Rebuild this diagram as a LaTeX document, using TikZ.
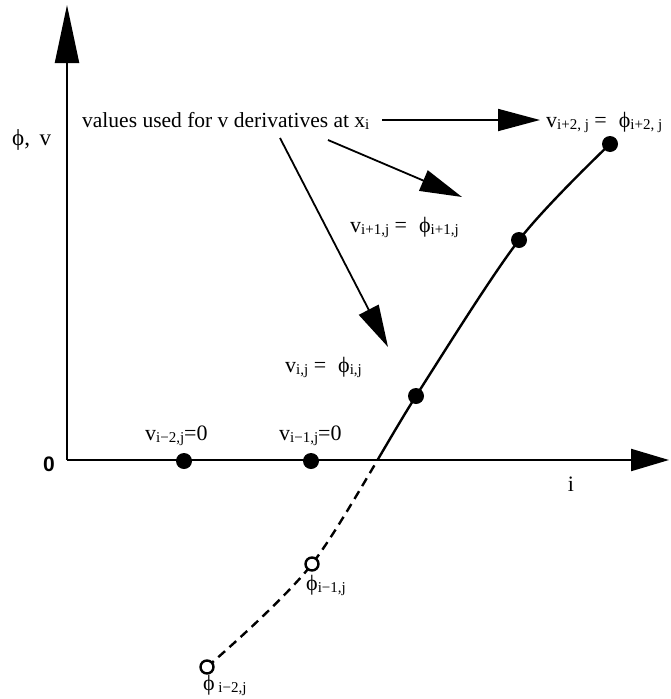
\documentclass[tikz,border=0pt]{standalone}
\usepackage{fontspec}
\setmainfont{Liberation Serif}
\newfontfamily\axfont{Liberation Sans}
\usetikzlibrary{arrows.meta}
\tikzstyle{lbl}=[inner sep=0pt,anchor=base west,font=\fontsize{22}{24}\selectfont]
\tikzstyle{fdot}=[circle,fill=black,inner sep=0pt,minimum size=16pt]
\tikzstyle{odot}=[circle,draw=black,fill=white,line width=2.4pt,inner sep=0pt,minimum size=13pt]
\tikzstyle{ptr}=[-{Triangle[length=42pt,width=22pt]},line width=1.8pt]
\tikzstyle{axis}=[line width=2.2pt]
\tikzstyle{curve}=[line width=2.4pt]
\newcommand{\lo}[1]{\raisebox{-2.5pt}{\fontsize{15}{15}\selectfont #1}}
\newcommand{\ph}{\char"03D5}
\begin{document}
\begin{tikzpicture}[x=1pt,y=-1pt]
\useasboundingbox (0,0) rectangle (670,699);
% axes
\coordinate (O) at (67,460);
\coordinate (ytop) at (67,5);
\coordinate (xend) at (669,460);
\draw[axis,-{Triangle[length=58pt,width=24pt]}] (O) -- (ytop);
\draw[axis,-{Triangle[length=38pt,width=22pt]}] (O) -- (xend);
\node[lbl,font=\fontsize{23}{24}\selectfont] (pv) at (12,145) {\ph,\, v};
\node[font=\axfont\bfseries\fontsize{21}{21}\selectfont,inner sep=0pt] (zero) at (49,464) {0};
\node[font=\fontsize{22}{22}\selectfont,inner sep=0pt] (ilab) at (571,484) {i};
% grid values
\coordinate (d1) at (184,461);
\coordinate (d2) at (311,461);
\coordinate (d3) at (416,396);
\coordinate (d4) at (519,240);
\coordinate (d5) at (610,144);
\coordinate (c1) at (312,564);
\coordinate (c2) at (207,667);
\begin{scope}
\clip (0,0) rectangle (670,460);
\draw[curve] plot[smooth] coordinates {(c2) (c1) (d3) (d4) (d5)};
\end{scope}
\begin{scope}
\clip (0,460) rectangle (670,699);
\draw[curve,dash pattern=on 9pt off 6pt] plot[smooth] coordinates {(c2) (c1) (d3) (d4) (d5)};
\end{scope}
\foreach \p in {d1,d2,d3,d4,d5} \node[fdot] at (\p) {};
\node[odot] (o1) at (c1) {};
\node[odot] (o2) at (c2) {};
% labels
\node[lbl] (l1) at (145,440) {v\lo{i−2,j}=0};
\node[lbl] (l2) at (279,440) {v\lo{i−1,j}=0};
\node[lbl] (l3) at (285,372) {v\lo{i,j} =\hspace{12pt}\ph\lo{i,j}};
\node[lbl] (l4) at (350,232) {v\lo{i+1,j} =\hspace{12pt}\ph\lo{i+1,j}};
\node[lbl] (l5) at (546,127) {v\lo{i+2, j} =\hspace{12pt}\ph\lo{i+2, j}};
\node[lbl] (l6) at (306,590) {\ph\lo{i−1,j}};
\node[lbl] (l7) at (203,690) {\ph\,\lo{i−2,j}};
\node[lbl,font=\fontsize{21.5}{24}\selectfont] (note) at (82,127) {values used for v derivatives at x\lo{i}};
% pointers
\coordinate (a1) at (382,120);
\coordinate (b1) at (540,120);
\coordinate (a2) at (328,140);
\coordinate (b2) at (462,197);
\coordinate (a3) at (280,138);
\coordinate (b3) at (388,347);
\draw[ptr] (a1) -- (b1);
\draw[ptr] (a2) -- (b2);
\draw[ptr] (a3) -- (b3);
\end{tikzpicture}
\end{document}
